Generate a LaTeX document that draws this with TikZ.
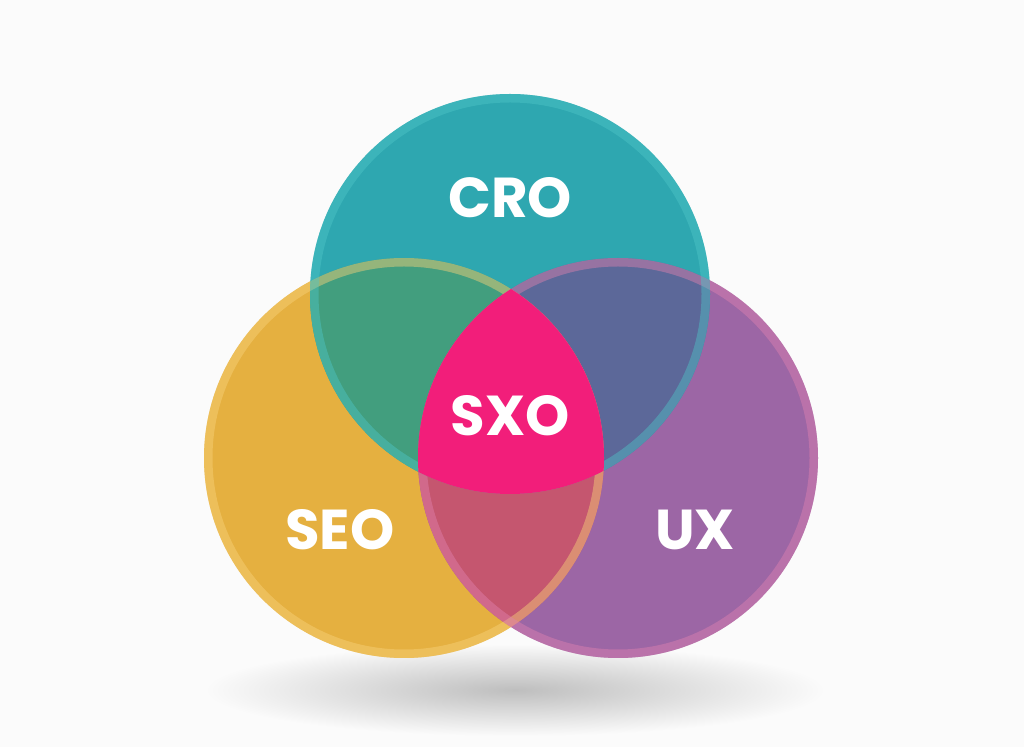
\documentclass[tikz,border=0pt]{standalone}
\usepackage{fontspec}
\setmainfont{Poppins}
\definecolor{bg}{RGB}{251,251,251}
\definecolor{shadowc}{RGB}{190,190,190}
\definecolor{cro}{RGB}{46,167,176}
\definecolor{seo}{RGB}{229,176,64}
\definecolor{ux}{RGB}{156,102,165}
\definecolor{cs}{RGB}{66,158,126}
\definecolor{cu}{RGB}{92,104,153}
\definecolor{su}{RGB}{197,86,111}
\definecolor{sxo}{RGB}{242,30,122}
\definecolor{croring}{RGB}{52,190,192}
\definecolor{seoring}{RGB}{246,196,84}
\definecolor{uxring}{RGB}{220,105,160}
\begin{document}
\begin{tikzpicture}[x=0.02cm,y=0.02cm,
  lbl/.style={text=white,font=\fontsize{32}{36}\selectfont\bfseries},
  ring/.style={line width=0.34cm,opacity=0.4}]
\fill[bg] (0,0) rectangle (1024,747);
\useasboundingbox (0,0) rectangle (1024,747);
\shade[inner color=shadowc, outer color=bg] (515,57) ellipse (310 and 46);
\coordinate (cC) at (510,453);
\coordinate (cS) at (404,289);
\coordinate (cU) at (618,289);
\def\R{200}
\fill[seo] (cS) circle (\R);
\fill[ux] (cU) circle (\R);
\fill[cro] (cC) circle (\R);
\begin{scope}
  \clip (cC) circle (\R);
  \fill[cs] (cS) circle (\R);
  \fill[cu] (cU) circle (\R);
\end{scope}
\begin{scope}
  \clip (cS) circle (\R);
  \fill[su] (cU) circle (\R);
\end{scope}
% rings
\begin{scope}
  \clip (cS) circle (\R);
  \draw[ring,seoring] (cS) circle (\R);
  \draw[line width=0.34cm,white,opacity=0.1] (cS) circle (\R);
\end{scope}
\begin{scope}
  \clip (cU) circle (\R);
  \draw[ring,uxring] (cU) circle (\R);
  \draw[line width=0.34cm,white,opacity=0.08] (cU) circle (\R);
\end{scope}
\begin{scope}
  \clip (cC) circle (\R);
  \draw[ring,croring] (cC) circle (\R);
  \draw[line width=0.34cm,white,opacity=0.06] (cC) circle (\R);
\end{scope}
% centre
\begin{scope}
  \clip (cC) circle (\R);
  \clip (cS) circle (\R);
  \fill[sxo] (cU) circle (\R);
\end{scope}
\node[lbl] (tcro) at (510,549) {CRO};
\node[lbl] (tsxo) at (510,331) {SXO};
\node[lbl] (tseo) at (340,217) {SEO};
\node[lbl] (tux) at (695,217) {UX};
\end{tikzpicture}
\end{document}
